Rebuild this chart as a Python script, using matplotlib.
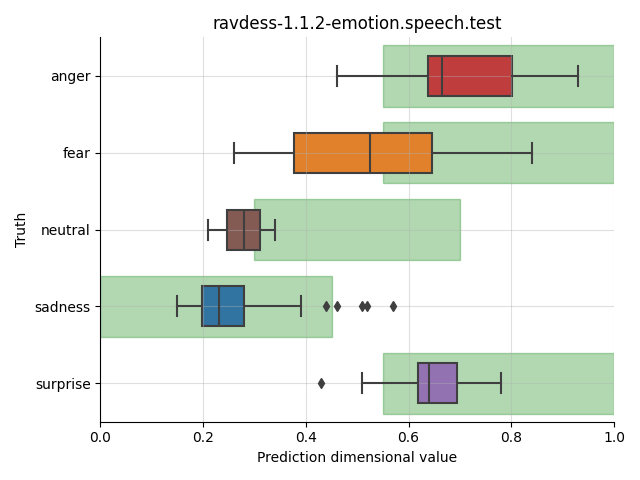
import matplotlib
matplotlib.use("Agg")
import matplotlib.pyplot as plt
from matplotlib.colors import to_rgb
import colorsys

emotions = ["anger", "fear", "neutral", "sadness", "surprise"]
colors = ["tab:red", "tab:orange", "tab:brown", "tab:blue", "tab:purple"]

# box statistics
whislo = [0.461, 0.260, 0.209, 0.149, 0.509]
q1 = [0.637, 0.376, 0.247, 0.198, 0.618]
med = [0.665, 0.524, 0.279, 0.231, 0.639]
q3 = [0.802, 0.646, 0.311, 0.280, 0.695]
whishi = [0.930, 0.840, 0.339, 0.390, 0.780]
fliers = [[], [], [], [0.439, 0.461, 0.509, 0.519, 0.570], [0.430]]

# expected range for each emotion
range_lo = [0.55, 0.55, 0.30, 0.00, 0.55]
range_hi = [1.00, 1.00, 0.70, 0.45, 1.00]


def desaturate(c, prop=0.75):
    h, l, s = colorsys.rgb_to_hls(*to_rgb(c))
    return colorsys.hls_to_rgb(h, l, s * prop)


fig, ax = plt.subplots(figsize=(6.4, 4.8), dpi=100)

pos = list(range(len(emotions)))
ax.barh(pos, [h - l for l, h in zip(range_lo, range_hi)], left=range_lo,
        height=0.8, color="green", alpha=0.3, edgecolor="green", linewidth=1, zorder=0.5)

stats = []
for i, name in enumerate(emotions):
    stats.append(dict(label=name, whislo=whislo[i], q1=q1[i], med=med[i],
                      q3=q3[i], whishi=whishi[i], fliers=fliers[i]))

line_col = "#3f3f3f"
bp = ax.bxp(stats, positions=pos, widths=0.52, vert=False, patch_artist=True,
            boxprops=dict(edgecolor=line_col, linewidth=1.5),
            whiskerprops=dict(color=line_col, linewidth=1.5),
            capprops=dict(color=line_col, linewidth=1.5),
            medianprops=dict(color=line_col, linewidth=1.5),
            flierprops=dict(marker="d", markerfacecolor=line_col,
                            markeredgecolor=line_col, markersize=5))
for box, c in zip(bp["boxes"], colors):
    box.set_facecolor(desaturate(c))
    box.set_zorder(1)

ax.set_xlim(0, 1)
ax.set_ylim(4.5, -0.5)
ax.set_yticks(pos)
ax.set_yticklabels(emotions)
ax.grid(alpha=0.4)
ax.spines["top"].set_visible(False)
ax.spines["right"].set_visible(False)
ax.set_xlabel("Prediction dimensional value")
ax.set_ylabel("Truth")
ax.set_title("ravdess-1.1.2-emotion.speech.test")

plt.tight_layout()
plt.savefig("out.png")
